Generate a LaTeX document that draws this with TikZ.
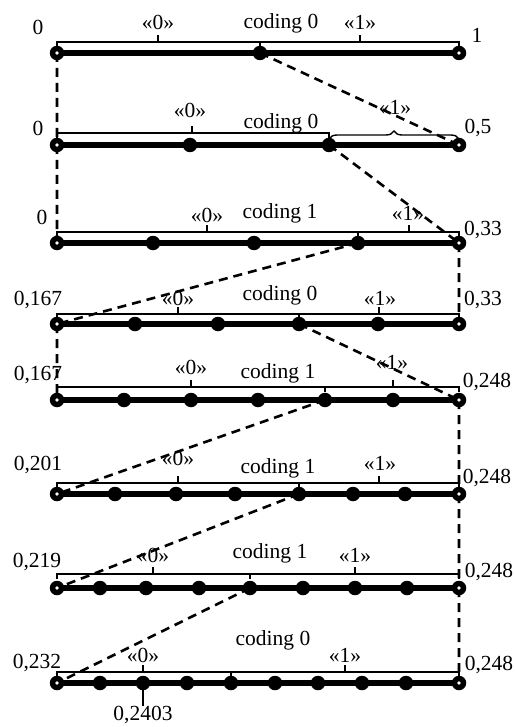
\documentclass[tikz,border=0pt]{standalone}
\usepackage{fontspec}
\setmainfont{Liberation Serif}
\usepackage{tikz}
\usetikzlibrary{backgrounds,decorations.pathreplacing}
\tikzset{
  lbl/.style   ={inner sep=0pt, font=\fontsize{21.5}{24}\selectfont},
  bar/.style   ={line width=5.5pt},
  brk/.style   ={line width=1.4pt},
  guide/.style ={line width=2.6pt, dash pattern=on 9pt off 6pt},
  dot/.style   ={circle, fill=black, inner sep=0pt, minimum size=14.5pt},
  enddot/.style={dot, path picture={\fill[white] (path picture bounding box.center) circle (1.8pt);}},
}
\begin{document}
\begin{tikzpicture}[x=1pt,y=-1pt]
  \useasboundingbox (0,0) rectangle (514,727);

  % row a: [0,1]
  \node[enddot] (aL) at (57,53) {};
  \node[enddot] (aR) at (459,53) {};
  \foreach \x [count=\i] in {260} \node[dot] (a\i) at (\x,53) {};
  \node[lbl] (al) at (38,27) {0};
  \node[lbl] (ar) at (477,35) {1};
  \node[lbl] (a0t) at (158,22) {«0»};
  \node[lbl] (act) at (281,23) {coding 0};
  \node[lbl] (a1t) at (360,22) {«1»};

  % row b: [0,0.5]
  \node[enddot] (bL) at (57,145) {};
  \node[enddot] (bR) at (459,145) {};
  \foreach \x [count=\i] in {190,329} \node[dot] (b\i) at (\x,145) {};
  \node[lbl] (bl) at (38,128) {0};
  \node[lbl] (br) at (478,128) {0,5};
  \node[lbl] (b0t) at (190,110) {«0»};
  \node[lbl] (bct) at (281,123) {coding 0};
  \node[lbl] (b1t) at (395,107) {«1»};
  \draw[brk] (57,138) |- (329,133) -- (329,138);
  \draw[brk] (192,133) -- (192,126);
  \draw[brk, decorate, decoration={brace, amplitude=8pt}] (329,139) -- (459,139);

  % row c: [0,0.33]
  \node[enddot] (cL) at (57,243) {};
  \node[enddot] (cR) at (459,243) {};
  \foreach \x [count=\i] in {153,254,358} \node[dot] (c\i) at (\x,243) {};
  \node[lbl] (cl) at (42,217) {0};
  \node[lbl] (cr) at (483,230) {0,33};
  \node[lbl] (c0t) at (207,215) {«0»};
  \node[lbl] (cct) at (280,213) {coding 1};
  \node[lbl] (c1t) at (408,213) {«1»};

  % row d: [0.167,0.33]
  \node[enddot] (dL) at (57,324) {};
  \node[enddot] (dR) at (459,324) {};
  \foreach \x [count=\i] in {135,218,299,378} \node[dot] (d\i) at (\x,324) {};
  \node[lbl] (dl) at (38,300) {0,167};
  \node[lbl] (dr) at (483,300) {0,33};
  \node[lbl] (d0t) at (178,298) {«0»};
  \node[lbl] (dct) at (280,295) {coding 0};
  \node[lbl] (d1t) at (380,298) {«1»};

  % row e: [0.167,0.248]
  \node[enddot] (eL) at (57,400) {};
  \node[enddot] (eR) at (459,400) {};
  \foreach \x [count=\i] in {124,191,258,325,393} \node[dot] (e\i) at (\x,400) {};
  \node[lbl] (el) at (38,375) {0,167};
  \node[lbl] (er) at (487,382) {0,248};
  \node[lbl] (e0t) at (191,367) {«0»};
  \node[lbl] (ect) at (278,373) {coding 1};
  \node[lbl] (e1t) at (392,362) {«1»};

  % row f: [0.201,0.248]
  \node[enddot] (fL) at (57,494) {};
  \node[enddot] (fR) at (459,494) {};
  \foreach \x [count=\i] in {115,176,235,299,353,405} \node[dot] (f\i) at (\x,494) {};
  \node[lbl] (fl) at (38,465) {0,201};
  \node[lbl] (fr) at (487,478) {0,248};
  \node[lbl] (f0t) at (178,458) {«0»};
  \node[lbl] (fct) at (278,468) {coding 1};
  \node[lbl] (f1t) at (380,463) {«1»};

  % row g: [0.219,0.248]
  \node[enddot] (gL) at (57,588) {};
  \node[enddot] (gR) at (459,588) {};
  \foreach \x [count=\i] in {100,146,199,250,303,355,407} \node[dot] (g\i) at (\x,588) {};
  \node[lbl] (gl) at (37,562) {0,219};
  \node[lbl] (gr) at (489,572) {0,248};
  \node[lbl] (g0t) at (153,555) {«0»};
  \node[lbl] (gct) at (270,553) {coding 1};
  \node[lbl] (g1t) at (355,555) {«1»};

  % row h: [0.232,0.248]
  \node[enddot] (hL) at (57,683) {};
  \node[enddot] (hR) at (459,683) {};
  \foreach \x [count=\i] in {100,143,187,231,275,318,362,406} \node[dot] (h\i) at (\x,683) {};
  \node[lbl] (hl) at (37,663) {0,232};
  \node[lbl] (hr) at (489,665) {0,248};
  \node[lbl] (h0t) at (143,655) {«0»};
  \node[lbl] (hct) at (273,640) {coding 0};
  \node[lbl] (h1t) at (345,655) {«1»};
  \node[lbl] (hv) at (143,715) {0,2403};
  \draw[brk] (h2) -- (hv);

  % brackets: y, split, two ticks
  \foreach \by/\sx/\ta/\tb in {42/260/158/360, 232/358/207/409,
      314/299/178/379, 387/325/191/393, 483/299/178/379, 574/250/153/355, 672/231/143/345}{
    \draw[brk] (57,\by+5) |- (\sx,\by) -- (\sx,\by+5);
    \draw[brk] (\sx,\by) -| (459,\by+5);
    \draw[brk] (\ta,\by) -- (\ta,\by-7) (\tb,\by) -- (\tb,\by-7);
  }

  \begin{scope}[on background layer]
    \foreach \r in {a,b,c,d,e,f,g,h}
      \draw[bar] (\r L.center) -- (\r R.center);
    \draw[guide] (aL.center) -- (bL.center) (a1.center) -- (bR.center);
    \draw[guide] (bL.center) -- (cL.center) (b2.center) -- (cR.center);
    \draw[guide] (c3.center) -- (dL.center) (cR.center) -- (dR.center);
    \draw[guide] (dL.center) -- (eL.center) (d3.center) -- (eR.center);
    \draw[guide] (e4.center) -- (fL.center) (eR.center) -- (fR.center);
    \draw[guide] (f4.center) -- (gL.center) (fR.center) -- (gR.center);
    \draw[guide] (g4.center) -- (hL.center) (gR.center) -- (hR.center);
  \end{scope}
\end{tikzpicture}
\end{document}
